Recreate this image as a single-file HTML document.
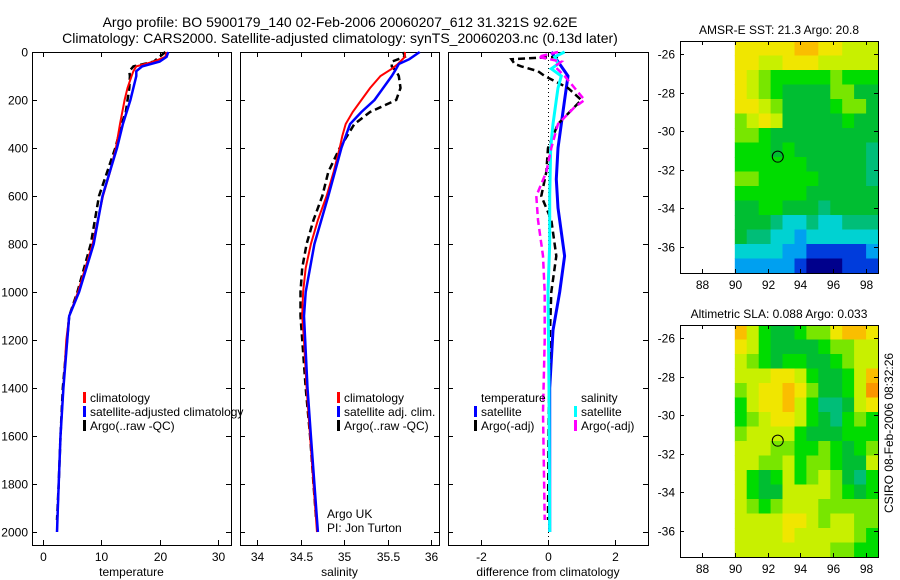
<!DOCTYPE html>
<html><head><meta charset="utf-8"><style>
body{margin:0;background:#fff;}
svg{display:block;font-family:"Liberation Sans",sans-serif;}
</style></head><body>
<svg id="c" width="900" height="580" viewBox="0 0 900 580" xmlns="http://www.w3.org/2000/svg"></svg>
<script>
// ---------- data ----------
const tempDepthClim=[0,20,40,60,80,100,150,200,300,400,500,600,800,1000,1100,1200,1400,1600,1800,2000];
const tempClim=[21.2,21,19,16,15.5,15.2,14.5,14,13.2,12.5,11.5,10.3,8.5,6,4.5,4,3.5,3,2.7,2.4];
const tempDepthSat=[0,20,40,60,80,100,200,300,400,600,800,1000,1100,1400,1600,1800,2000];
const tempSat=[21.5,21.2,20,17,16,16,15,13.7,12.7,10.2,8.7,6.2,4.5,3.5,3.0,2.7,2.4];
const tempDepthArgo=[0,10,40,60,80,100,150,250,300,400,600,800,1000,1100,1400,1600,1800,1950];
const tempArgo=[21.0,20.5,19,15.5,14.8,14.9,14.8,14.2,13.5,12.4,9.6,8.2,5.9,4.5,3.4,3.0,2.7,2.4];

const salDepthClim=[0,20,50,70,100,150,200,250,300,350,400,500,600,700,800,900,1000,1100,1200,1400,1600,1800,2000];
const salClim=[35.70,35.70,35.62,35.55,35.42,35.3,35.2,35.1,35.02,34.98,34.95,34.88,34.8,34.7,34.62,34.56,34.53,34.52,34.54,34.57,34.61,34.65,34.69];
const salDepthSat=[0,30,50,70,100,200,250,300,400,600,800,1000,1100,1400,1600,1800,2000];
const salSat=[35.87,35.75,35.63,35.6,35.55,35.35,35.2,35.07,34.97,34.82,34.66,34.56,34.54,34.58,34.62,34.66,34.70];
const salDepthArgo=[0,20,40,60,80,100,150,200,250,300,400,500,600,700,800,900,1000,1100,1400,1600,1800,1950];
const salArgo=[35.68,35.70,35.55,35.55,35.6,35.63,35.65,35.6,35.3,35.12,34.95,34.82,34.75,34.65,34.57,34.52,34.50,34.50,34.56,34.61,34.65,34.68];

const diffDepthT=[0,40,60,100,200,300,400,530,650,850,1000,1160,1400,2000];
const diffTempSat=[0.1,0.3,0.4,0.6,0.5,0.4,0.3,0.25,0.3,0.5,0.35,0.15,0.05,0.05];
const diffDepthTA=[20,30,50,60,80,100,150,200,300,400,500,600,700,850,1000,1200,1500,1950];
const diffTempArgo=[0.3,-1.1,-1.0,-0.8,-0.3,-0.1,0.6,1.0,0.3,0.0,-0.05,-0.2,0.1,0.25,0.1,0.05,0.02,0];
const diffDepthS=[0,20,50,70,100,150,200,300,400,600,800,1000,1400,2000];
const diffSalSat=[0.5,0.2,0.3,0.1,0.4,0.3,0.25,0.15,0.08,0.05,0.05,0.0,0.03,0.05];
const diffDepthSA=[0,20,40,60,80,100,150,200,230,300,400,500,600,700,850,1000,1200,1500,1950];
const diffSalArgo=[0.3,-0.3,0.4,0.2,0.35,0.5,0.8,1.1,0.8,0.3,0.1,-0.05,-0.35,-0.3,-0.15,-0.1,-0.1,-0.15,-0.1];

const depthTicks=[0,200,400,600,800,1000,1200,1400,1600,1800,2000];
const tempTicks=[0,10,20,30];
const salTicks=[34,34.5,35,35.5,36];
const diffTicks=[-2,0,2];
const lonTicks=[88,90,92,94,96,98];
const latTicks=[-26,-28,-30,-32,-34,-36];

const sstGrid=[
[9,9,9,9,9,10,10,9,9,8,8,8],
[9,9,8,8,9,9,9,8,8,8,8,8],
[9,8,7,6,6,6,6,6,7,6,6,6],
[9,8,7,6,5,5,5,5,7,7,5,5],
[9,9,8,7,5,5,5,5,6,7,7,5],
[7,8,9,8,5,5,5,5,5,6,5,5],
[7,7,6,5,5,5,5,5,5,5,5,5],
[6,6,6,5,6,5,5,5,5,5,5,4],
[6,6,6,6,6,6,5,5,5,5,5,4],
[7,7,6,6,6,6,6,5,5,5,5,4],
[6,6,6,6,6,6,5,5,5,5,5,5],
[5,5,6,6,5,5,5,4,5,5,5,5],
[5,5,5,4,3,3,4,3,3,4,4,4],
[5,4,4,3,3,2,3,3,3,3,3,3],
[3,3,3,3,2,2,1,1,1,1,1,2],
[2,2,2,2,2,1,0,0,0,1,1,1]];
const slaGrid=[
[10,8,6,5,5,6,7,7,9,10,10,9],
[9,8,6,5,5,5,5,6,7,7,8,8],
[8,7,6,5,6,6,5,5,6,7,8,8],
[8,8,8,9,9,8,6,5,5,6,8,10],
[7,8,9,9,10,9,7,5,5,6,8,11],
[6,8,9,9,10,8,6,4,4,5,8,9],
[6,7,8,9,9,8,6,5,4,6,7,6],
[7,8,8,8,8,6,5,5,5,6,6,6],
[8,8,8,7,7,6,6,7,6,5,6,7],
[8,8,7,7,8,6,7,7,6,5,5,8],
[8,6,5,6,8,6,7,8,7,5,4,6],
[8,6,5,5,8,8,8,8,7,6,5,6],
[8,7,6,7,8,8,8,7,7,7,7,7],
[8,8,8,8,9,9,8,7,8,8,7,7],
[8,8,8,8,9,8,8,8,8,8,7,6],
[8,8,8,8,8,8,8,8,7,7,6,6]];
const floatLon=92.62, floatLat=-31.32;

// ---------- helpers ----------
const NS="http://www.w3.org/2000/svg";
const svg=document.getElementById('c');
function mk(tag,attrs,parent){const e=document.createElementNS(NS,tag);for(const k in attrs)e.setAttribute(k,attrs[k]);(parent||svg).appendChild(e);return e;}
function txt(s,x,y,anchor,size,parent){const t=mk('text',{x:x,y:y,'text-anchor':anchor||'middle','font-size':size||12,fill:'#000'},parent);t.textContent=s;return t;}

const yTop=52,yBot=545;
const yD=d=>52+d*0.24;
const panels=[
 {name:'temperature',l:32,r:231,x:v=>43+5.83*v,ticks:tempTicks,label:'temperature'},
 {name:'salinity',l:240,r:439,x:v=>257+87*(v-34),ticks:salTicks,label:'salinity'},
 {name:'difference',l:448,r:648,x:v=>548+33.3*v,ticks:diffTicks,label:'difference from climatology'}];

txt('Argo profile: BO 5900179_140 02-Feb-2006 20060207_612 31.321S 92.62E',340,27,'middle',14);
txt('Climatology: CARS2000. Satellite-adjusted climatology: synTS_20060203.nc (0.13d later)',340,43,'middle',14);

panels.forEach((p,pi)=>{
 const g=mk('g',{});
 
 
 mk('rect',{x:p.l+0.5,y:yTop+0.5,width:p.r-p.l,height:yBot-yTop,fill:'none',stroke:'#000','stroke-width':1},g);
 p.ticks.forEach(t=>{const x=Math.round(p.x(t))+0.5;
  mk('line',{x1:x,x2:x,y1:yBot,y2:yBot-5,stroke:'#000'},g);
  mk('line',{x1:x,x2:x,y1:yTop,y2:yTop+5,stroke:'#000'},g);
  const tl=txt(String(t),x,yBot+16,'middle',12,g);
  
 });
 const xl=txt(p.label,(p.l+p.r)/2,yBot+31,'middle',12,g);
 
 depthTicks.forEach(d=>{const y=Math.round(yD(d))+0.5;
  mk('line',{x1:p.l,x2:p.l+5,y1:y,y2:y,stroke:'#000'},g);
  mk('line',{x1:p.r-5,x2:p.r,y1:y,y2:y,stroke:'#000'},g);
  if(pi===0){const tl=txt(String(d),p.l-4,y+4,'end',12,g);}
 });
 p.g=g;
});

function line(g,p,depths,vals,color,dash,w,name){
 const pts=depths.map((d,i)=>p.x(vals[i]).toFixed(1)+','+yD(d).toFixed(1)).join(' ');
 const e=mk('polyline',{points:pts,fill:'none',stroke:color,'stroke-width':w||2,'stroke-dasharray':dash||'none'},g);
 
 
}
const P=panels;
line(P[0].g,P[0],tempDepthArgo,tempArgo,'#000','7,4',2.5,'temp-argo-line');
line(P[0].g,P[0],tempDepthClim,tempClim,'#f00',null,2,'temp-climatology-line');
line(P[0].g,P[0],tempDepthSat,tempSat,'#00f',null,2.5,'temp-satellite-line');
line(P[1].g,P[1],salDepthArgo,salArgo,'#000','7,4',2.5,'sal-argo-line');
line(P[1].g,P[1],salDepthClim,salClim,'#f00',null,2,'sal-climatology-line');
line(P[1].g,P[1],salDepthSat,salSat,'#00f',null,2.5,'sal-satellite-line');
const z=Math.round(P[2].x(0))+0.5;
mk('line',{x1:z,x2:z,y1:yTop,y2:yBot,stroke:'#000','stroke-dasharray':'1,3'},P[2].g);
line(P[2].g,P[2],diffDepthT,diffTempSat,'#00f',null,3,'diff-temp-satellite');
line(P[2].g,P[2],diffDepthTA,diffTempArgo,'#000','7,4',2.5,'diff-temp-argo');
line(P[2].g,P[2],diffDepthS,diffSalSat,'#0ff',null,3,'diff-sal-satellite');
line(P[2].g,P[2],diffDepthSA,diffSalArgo,'#f0f','7,4',2.5,'diff-sal-argo');

function legend(items,x,y,name){
 const g=mk('g',{});
 
 
 items.forEach((it,i)=>{const yy=y+i*14;
  if(it.c) mk('rect',{x:x,y:yy-10,width:3,height:11,fill:it.c},g);
  txt(it.t,x+7,yy,'start',12,g);});
}
legend([{c:'#f00',t:'climatology'},{c:'#00f',t:'satellite-adjusted climatology'},{c:'#000',t:'Argo(..raw -QC)'}],83,402,'temp-legend');
legend([{c:'#f00',t:'climatology'},{c:'#00f',t:'satellite adj. clim.'},{c:'#000',t:'Argo(..raw -QC)'}],337,402,'sal-legend');
legend([{t:'temperature'},{c:'#00f',t:'satellite'},{c:'#000',t:'Argo(-adj)'}],474,402,'diff-temp-legend');
legend([{t:'salinity'},{c:'#0ff',t:'satellite'},{c:'#f0f',t:'Argo(-adj)'}],574,402,'diff-sal-legend');
txt('Argo UK',327,518,'start',12);
txt('PI: Jon Turton',327,532,'start',12);

// ---------- maps ----------
const pal=['#00008c','#003cdc','#00a0f0','#00d2d2','#00be78','#00be32','#00dc00','#78e600','#c8f000','#f0e600','#fabe00','#fa9600'];
const lonX=lo=>702+(lo-88)*16.4;
function map(grid,top,bot,title,name){
 const g=mk('g',{});
 
 
 const l=680,r=878;
 const lat0=-26, latY0=top+13, pd=19.3;
 const latY=la=>latY0+(lat0-la)*pd;
 const latTop=lat0+(latY0-top)/pd, latBot=lat0-(bot-latY0)/pd;
 const lonL=90, lonR=88+(r-702)/16.4;
 const nr=grid.length,nc=grid[0].length;
 const dLon=(lonR-lonL)/nc,dLat=(latTop-latBot)/nr;
 grid.forEach((row,i)=>row.forEach((v,j)=>{
  const x0=lonX(lonL+j*dLon),x1=lonX(lonL+(j+1)*dLon);
  const y0=latY(latTop-i*dLat),y1=latY(latTop-(i+1)*dLat);
  mk('rect',{x:x0.toFixed(1),y:y0.toFixed(1),width:(x1-x0+0.6).toFixed(1),height:(y1-y0+0.6).toFixed(1),fill:pal[v]},g);
 }));
 const cx=lonX(floatLon),cy=latY(floatLat);
 const c=mk('circle',{cx:cx,cy:cy,r:5.5,fill:'none',stroke:'#000','stroke-width':1},g);
 
 mk('rect',{x:l+0.5,y:top+0.5,width:r-l,height:bot-top,fill:'none',stroke:'#000'},g);
 lonTicks.forEach(lo=>{const x=Math.round(lonX(lo))+0.5;
  mk('line',{x1:x,x2:x,y1:bot,y2:bot-4,stroke:'#000'},g);
  mk('line',{x1:x,x2:x,y1:top,y2:top+4,stroke:'#000'},g);
  txt(String(lo),x,bot+16,'middle',12,g);});
 latTicks.forEach(la=>{const y=Math.round(latY(la))+0.5;
  mk('line',{x1:l,x2:l+4,y1:y,y2:y,stroke:'#000'},g);
  mk('line',{x1:r-4,x2:r,y1:y,y2:y,stroke:'#000'},g);
  txt(String(la),l-5,y+4,'end',12,g);});
 txt(title,(l+r)/2,top-7,'middle',12,g);
}
map(sstGrid,41,273,'AMSR-E SST: 21.3 Argo: 20.8','sst-map');
map(slaGrid,325,557,'Altimetric SLA: 0.088 Argo: 0.033','sla-map');
const ts=txt('CSIRO 08-Feb-2006 08:32:26',0,0,'middle',12);
ts.setAttribute('transform','translate(893,433) rotate(-90)');

</script>
</body></html>
